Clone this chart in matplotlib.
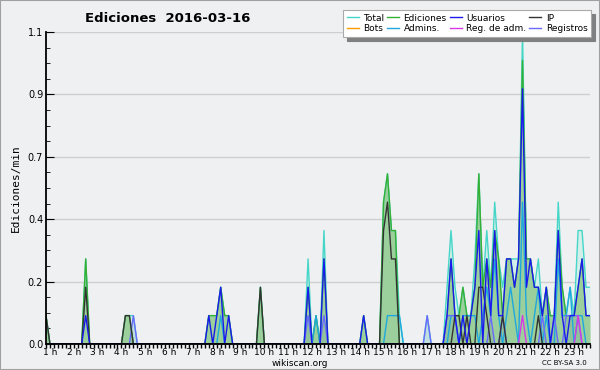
import matplotlib
matplotlib.use("Agg")
import numpy as np
import matplotlib.pyplot as plt
from matplotlib.ticker import FixedLocator, MultipleLocator, FuncFormatter

# 10-minute bins from 00:50 to 23:40, values in edits per minute
first_min, last_min = 50, 1420

# only the non-zero bins, keyed by bin start
total = {"00:50": .1, "02:30": .3, "04:10": .1, "04:20": .1, "04:30": .1,
         "07:40": .1, "07:50": .1, "08:00": .1, "08:10": .2, "08:20": .1, "08:30": .1,
         "09:50": .2, "11:50": .3, "12:10": .1, "12:30": .4, "14:10": .1,
         "15:00": .5, "15:10": .6, "15:20": .4, "15:30": .4, "15:40": .1, "16:50": .1,
         "17:40": .2, "17:50": .4, "18:00": .2, "18:10": .1, "18:20": .2, "18:30": .1,
         "18:40": .1, "18:50": .3, "19:00": .6, "19:10": .2, "19:20": .4, "19:30": .2,
         "19:40": .5, "19:50": .3, "20:00": .2, "20:10": .3, "20:20": .3, "20:30": .3,
         "20:40": .3, "20:50": 1.1, "21:00": .3, "21:10": .3, "21:20": .2, "21:30": .3,
         "21:40": .1, "21:50": .2, "22:00": .1, "22:10": .1, "22:20": .5, "22:30": .2,
         "22:40": .1, "22:50": .2, "23:00": .1, "23:10": .4, "23:20": .4, "23:30": .2,
         "23:40": .2}
ediciones = {"00:50": .1, "02:30": .3, "04:10": .1, "04:20": .1,
             "07:40": .1, "07:50": .1, "08:00": .1, "08:10": .2, "08:20": .1, "08:30": .1,
             "09:50": .2, "11:50": .2, "12:10": .1, "12:30": .3, "14:10": .1,
             "15:00": .5, "15:10": .6, "15:20": .4, "15:30": .4,
             "17:40": .1, "17:50": .3, "18:00": .1, "18:10": .1, "18:20": .2, "18:30": .1,
             "18:40": .1, "18:50": .2, "19:00": .6, "19:10": .2, "19:20": .3, "19:30": .2,
             "19:40": .4, "19:50": .3, "20:00": .1, "20:10": .3, "20:20": .3, "20:30": .2,
             "20:40": .3, "20:50": 1.0, "21:00": .3, "21:10": .3, "21:20": .2, "21:30": .2,
             "21:40": .1, "21:50": .2, "22:00": .1, "22:10": .1, "22:20": .4, "22:30": .2,
             "22:40": .1, "22:50": .1, "23:00": .1, "23:10": .2, "23:20": .3, "23:30": .1,
             "23:40": .1}
usuarios = {"02:30": .1, "07:40": .1, "08:00": .1, "08:10": .2, "08:30": .1,
            "11:50": .2, "12:30": .3, "14:10": .1,
            "17:40": .1, "17:50": .3, "18:00": .1, "18:20": .1, "18:40": .1, "18:50": .2,
            "19:00": .4, "19:20": .3, "19:30": .1, "19:40": .4, "19:50": .1, "20:00": .1,
            "20:10": .3, "20:20": .3, "20:30": .2, "20:40": .3, "20:50": .9, "21:00": .2,
            "21:10": .3, "21:20": .2, "21:30": .2, "21:40": .1, "21:50": .2, "22:10": .1,
            "22:20": .4, "22:30": .1, "22:50": .1, "23:00": .1, "23:10": .2, "23:20": .3,
            "23:30": .1, "23:40": .1}
ip = {"00:50": .1, "02:30": .2, "04:10": .1, "04:20": .1, "09:50": .2,
      "15:00": .4, "15:10": .5, "15:20": .3, "15:30": .3,
      "18:00": .1, "18:10": .1, "18:30": .1, "19:00": .2, "19:10": .2, "19:20": .1,
      "20:00": .1, "21:30": .1}
admins = {"08:10": .1, "12:10": .1, "15:10": .1, "15:20": .1, "15:30": .1, "15:40": .1,
          "17:50": .1, "18:00": .1, "18:20": .1, "18:30": .1, "18:40": .1, "18:50": .1,
          "19:10": .1, "19:20": .2, "19:30": .1, "19:40": .3, "19:50": .1, "20:10": .1,
          "20:20": .2, "20:30": .1, "20:50": .5, "21:00": .1, "21:20": .1, "21:30": .2,
          "21:50": .1, "22:20": .3, "22:30": .1, "22:40": .1, "22:50": .2, "23:10": .1,
          "23:20": .1}
reg_adm = {"20:50": .1, "23:10": .1}
registros = {"04:30": .1, "11:50": .1, "12:30": .1, "16:50": .1, "17:40": .1, "17:50": .1,
             "18:00": .1, "19:30": .1, "20:00": .1, "21:40": .1, "22:10": .1, "22:40": .1,
             "22:50": .1, "23:00": .1, "23:10": .1}
bots = {}

hour_labels = ["%d h" % h for h in range(1, 24)]
ytick_vals = [0.0, 0.22, 0.44, 0.66, 0.88, 1.1]

minutes = np.arange(first_min, last_min + 1, 10)
x = minutes / 60.0


def series(d):
    s = np.zeros(len(minutes))
    for k, v in d.items():
        h, m = k.split(":")
        s[(int(h) * 60 + int(m) - first_min) // 10] = v
    return s


fig = plt.figure(figsize=(6, 3.7), dpi=100)
fig.patch.set_facecolor("#eff0f2")
ax = fig.add_axes([46 / 600, 26 / 370, 544 / 600, 312 / 370])
ax.set_facecolor("#eff0f2")

colors = {"Total": "#45d6c8", "Bots": "#ff9900", "Ediciones": "#35b035",
          "Admins.": "#1fa8de", "Usuarios": "#1a1aee", "Reg. de adm.": "#d838e8",
          "IP": "#333333", "Registros": "#6a6aff"}
data = {"Total": total, "Bots": bots, "Ediciones": ediciones, "Admins.": admins,
        "Usuarios": usuarios, "Reg. de adm.": reg_adm, "IP": ip, "Registros": registros}

ax.fill_between(x, series(total), color="#d2efe9", lw=0)
ax.fill_between(x, series(ediciones), color="#9bcf9b", lw=0)
ax.fill_between(x, series(registros), color="#4a6aa0", alpha=0.12, lw=0)

handles = {}
draw_order = ["Total", "Ediciones", "Admins.", "Registros", "Reg. de adm.", "Bots", "IP", "Usuarios"]
for name in draw_order:
    ln, = ax.plot(x, series(data[name]), color=colors[name], lw=1.0, label=name)
    handles[name] = ln

ax.set_xlim(x[0], x[-1])
ax.set_ylim(0, 1.1)
ax.yaxis.set_major_locator(FixedLocator(ytick_vals))
ax.yaxis.set_minor_locator(MultipleLocator(0.055))
ax.yaxis.set_major_formatter(FuncFormatter(lambda v, p: "%.1f" % v))
ax.xaxis.set_major_locator(FixedLocator(range(1, 24)))
ax.xaxis.set_minor_locator(FixedLocator(x))
ax.set_xticklabels(hour_labels)
ax.grid(axis="y", color="#cfcfcf", lw=1)
ax.set_axisbelow(True)
for s in ["top", "right"]:
    ax.spines[s].set_visible(False)
for s in ["left", "bottom"]:
    ax.spines[s].set_zorder(10)
    ax.spines[s].set_linewidth(1.3)
ax.tick_params(axis="y", which="major", labelsize=7, colors="black")
ax.tick_params(axis="x", which="major", labelsize=6.5, colors="black")
ax.tick_params(axis="x", which="both", direction="out", length=3, width=1, pad=0)
ax.tick_params(axis="y", which="minor", direction="in", length=3)
ax.tick_params(axis="y", which="major", direction="in", length=6, pad=2)

ax.set_ylabel("Ediciones/min", family="DejaVu Sans Mono", fontsize=8, labelpad=5)
fig.text(85 / 600, 1 - 18 / 370, "Ediciones  2016-03-16", fontsize=9.5,
         fontweight="bold", va="center", ha="left")
fig.text(0.5, 1 - 363.5 / 370, "wikiscan.org", fontsize=6.5, ha="center", va="center")
fig.text(587 / 600, 1 - 363 / 370, "CC BY-SA 3.0", fontsize=5, ha="right", va="center")

leg_names = ["Total", "Bots", "Ediciones", "Admins.", "Usuarios", "Reg. de adm.", "IP", "Registros"]
leg = fig.legend([handles[n] for n in leg_names], leg_names, ncol=4,
                 loc="upper right", bbox_to_anchor=(591 / 600, 1 - 10 / 370),
                 fontsize=6.5, frameon=True, fancybox=False,
                 shadow={"ox": 3, "oy": -3, "color": "#808080", "alpha": 1.0},
                 handlelength=1.3, handletextpad=0.5, columnspacing=0.35,
                 labelspacing=0.2, borderpad=0.4, borderaxespad=0)
leg.get_frame().set_edgecolor("#aaaaaa")
leg.get_frame().set_linewidth(0.8)
leg.get_frame().set_alpha(1)

fig.patches.append(plt.Rectangle((0, 0), 1, 1, transform=fig.transFigure,
                                 fill=False, ec="#a0a0a0", lw=1.5))
fig.savefig("out.png", dpi=100, facecolor=fig.get_facecolor())
